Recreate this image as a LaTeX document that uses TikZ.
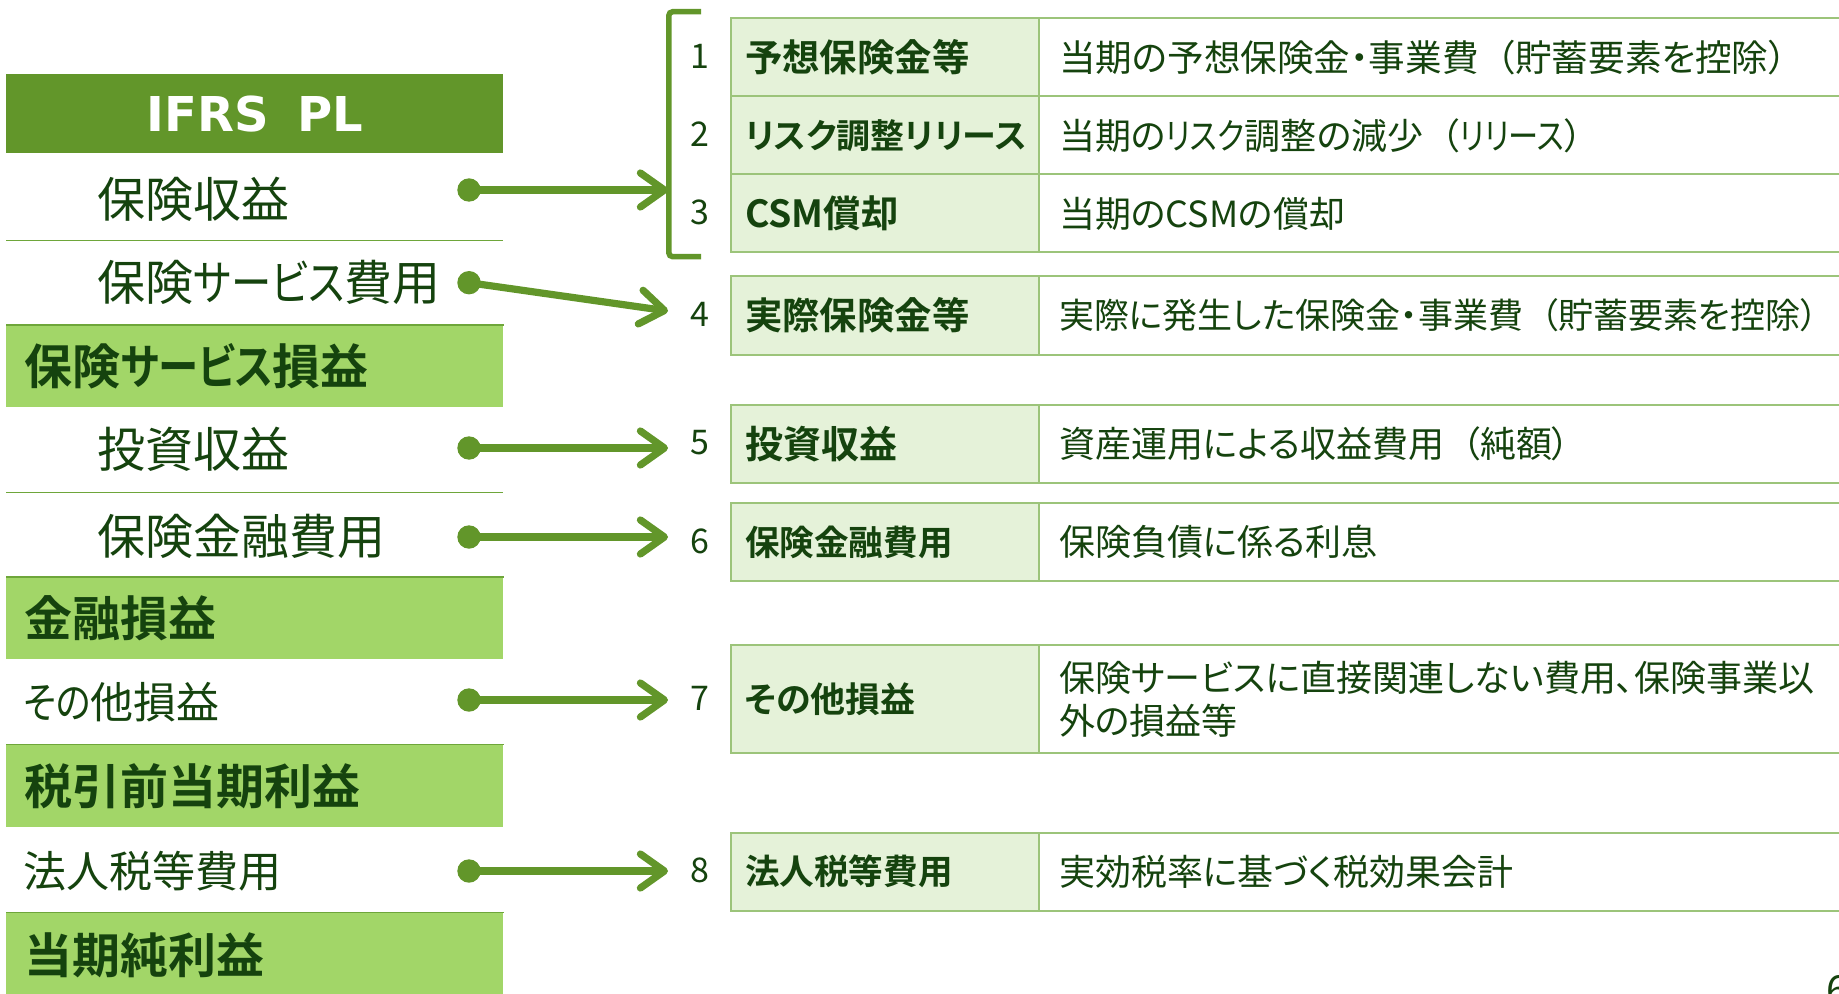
\documentclass[tikz,border=0pt]{standalone}
\usepackage{fontspec}
\usepackage{graphicx}
\setmainfont{Noto Sans CJK JP}[BoldFont={Noto Sans CJK JP Bold}, RawFeature=+palt]
\newfontfamily\dejavu{DejaVu Sans}
\usetikzlibrary{arrows.meta}
\definecolor{dg}{HTML}{62962A}
\definecolor{lg}{HTML}{A2D668}
\definecolor{txt}{HTML}{15430E}
\definecolor{cellg}{HTML}{E5F2D9}
\definecolor{tline}{HTML}{9CC47A}
\definecolor{sep}{HTML}{6EA63A}
\newcommand\jlp{\hspace{0.5em}（}
\newcommand\kn[1]{\scalebox{0.84}[1]{#1}}
\begin{document}
\begin{tikzpicture}[x=0.5pt, y=-0.5pt,
  item/.style={anchor=west, inner sep=0pt, text=txt, font=\fontsize{24pt}{28pt}\selectfont},
  itemsm/.style={item, font=\fontsize{21.5pt}{26pt}\selectfont},
  sumbox/.style={anchor=north west, fill=lg, inner xsep=9pt, inner ysep=0pt, text width=230.5pt, align=left, text=txt, font=\bfseries\fontsize{24pt}{28pt}\selectfont},
  sepline/.style={draw=sep, line width=0.7pt},
  dot/.style={circle, fill=dg, inner sep=0pt, minimum size=11.7pt},
  conn/.style={draw=dg, line width=3.6pt, -{Straight Barb[length=12pt,width=17pt,round]}},
  num/.style={inner sep=0pt, text=txt, font=\fontsize{17pt}{20pt}\selectfont},
  lab/.style={anchor=north west, draw=tline, fill=cellg, line width=1pt, minimum height=39pt, inner xsep=7.3pt, inner ysep=0pt, text width=139.6pt, align=left, text=txt, font=\bfseries\fontsize{18.7pt}{22pt}\selectfont},
  desc/.style={anchor=north west, draw=tline, line width=1pt, minimum height=39pt, inner xsep=10pt, inner ysep=0pt, text width=386pt, align=left, text=txt, font=\fontsize{18pt}{21.5pt}\selectfont},
  bracket/.style={draw=dg, line width=2.75pt, rounded corners=2pt}
]
\useasboundingbox (0,0) rectangle (1839,994);

% left column
\node[anchor=north west, fill=dg, minimum width=248.5pt, minimum height=39.25pt, inner sep=0pt, text=white, font=\dejavu\bfseries\fontsize{24pt}{28pt}\selectfont] (hdr) at (6,74) {IFRS\hspace{14pt}PL};
\node[item] (i1) at (97,199.4) {保険収益};
\draw[sepline] (6,240.4) -- (503,240.4);
\node[item] (i2) at (97,282.6) {保険\kn{サービス}費用};
\node[sumbox, minimum height=41pt] (b1) at (6,325) {保険\kn{サービス}損益};
\node[item] (i3) at (97,449) {投資収益};
\draw[sepline] (6,492.6) -- (503,492.6);
\node[item] (i4) at (97,536) {保険金融費用};
\node[sumbox, minimum height=41pt] (b2) at (6,577) {金融損益};
\node[itemsm] (i5) at (23,702.5) {\kn{その}他損益};
\node[sumbox, minimum height=41pt] (b3) at (6,744.7) {税引前当期利益};
\node[itemsm] (i6) at (23,871) {法人税等費用};
\node[sumbox, minimum height=42.5pt] (b4) at (6,912.4) {当期純利益};
\foreach \b in {b1,b2,b3,b4} \draw[sepline] (\b.north west) -- (\b.north east);

% bracket
\draw[bracket] (701,11.7) -- (668.75,11.7) -- (668.75,256.7) -- (701,256.7);

% dots and arrows
\node[dot] (d1) at (469,190) {};
\node[dot] (d2) at (469,282.7) {};
\node[dot] (d5) at (469,448) {};
\node[dot] (d6) at (469,537) {};
\node[dot] (d7) at (469,700) {};
\node[dot] (d8) at (469,871) {};
\coordinate (a1) at (668,190);
\coordinate (a2) at (668,311);
\coordinate (a5) at (668,448);
\coordinate (a6) at (668,537);
\coordinate (a7) at (668,700);
\coordinate (a8) at (668,871);
\draw[conn] (d1.center) -- (a1);
\draw[conn] (d2.center) -- (a2);
\draw[conn] (d5.center) -- (a5);
\draw[conn] (d6.center) -- (a6);
\draw[conn] (d7.center) -- (a7);
\draw[conn] (d8.center) -- (a8);

% numbers
\node[num] (n1) at (700,56.5) {1};
\node[num] (n2) at (700,134.5) {2};
\node[num] (n3) at (700,212.5) {3};
\node[num] (n4) at (700,314.5) {4};
\node[num] (n5) at (700,443) {5};
\node[num] (n6) at (700,541) {6};
\node[num] (n7) at (700,698) {7};
\node[num] (n8) at (700,870.5) {8};

% table
\node[lab] (l1) at (729.5,17.5) {予想保険金等};
\node[desc, font=\fontsize{18.3pt}{21.5pt}\selectfont] (e1) at (1038,17.5) {当期の予想保険金・事業費\jlp 貯蓄要素を控除）};
\node[lab, font=\bfseries\fontsize{17pt}{20pt}\selectfont] (l2) at (729.5,95.5) {リスク調整リリース};
\node[desc] (e2) at (1038,95.5) {当期の\kn{リスク}調整の減少\jlp \kn{リリース}）};
\node[lab] (l3) at (729.5,173.5) {CSM償却};
\node[desc] (e3) at (1038,173.5) {当期のCSMの償却};
\node[lab] (l4) at (729.5,275.5) {実際保険金等};
\node[desc, font=\fontsize{17.5pt}{21pt}\selectfont] (e4) at (1038,275.5) {実際に発生した保険金・事業費\jlp 貯蓄要素を控除）};
\node[lab, font=\bfseries\fontsize{19pt}{22pt}\selectfont] (l5) at (729.5,404) {投資収益};
\node[desc] (e5) at (1038,404) {資産運用による収益費用\jlp 純額）};
\node[lab, font=\bfseries\fontsize{17.3pt}{20pt}\selectfont] (l6) at (729.5,502) {保険金融費用};
\node[desc] (e6) at (1038,502) {保険負債に係る利息};
\node[lab, minimum height=54pt, font=\bfseries\fontsize{17.5pt}{20pt}\selectfont] (l7) at (729.5,644) {その他損益};
\node[desc, minimum height=54pt] (e7) at (1038,644) {保険サービスに直接関連しない費用、保険事業以\\外の損益等};
\node[lab, font=\bfseries\fontsize{17.3pt}{20pt}\selectfont] (l8) at (729.5,831.5) {法人税等費用};
\node[desc] (e8) at (1038,831.5) {実効税率に基づく税効果会計};

% cut-off page number
\begin{scope}
\clip (0,0) rectangle (1839,994);
\node[anchor=base west, inner sep=0pt, text=txt, font=\fontsize{20pt}{24pt}\selectfont] (pg) at (1826,1004) {6};
\end{scope}
\end{tikzpicture}
\end{document}
